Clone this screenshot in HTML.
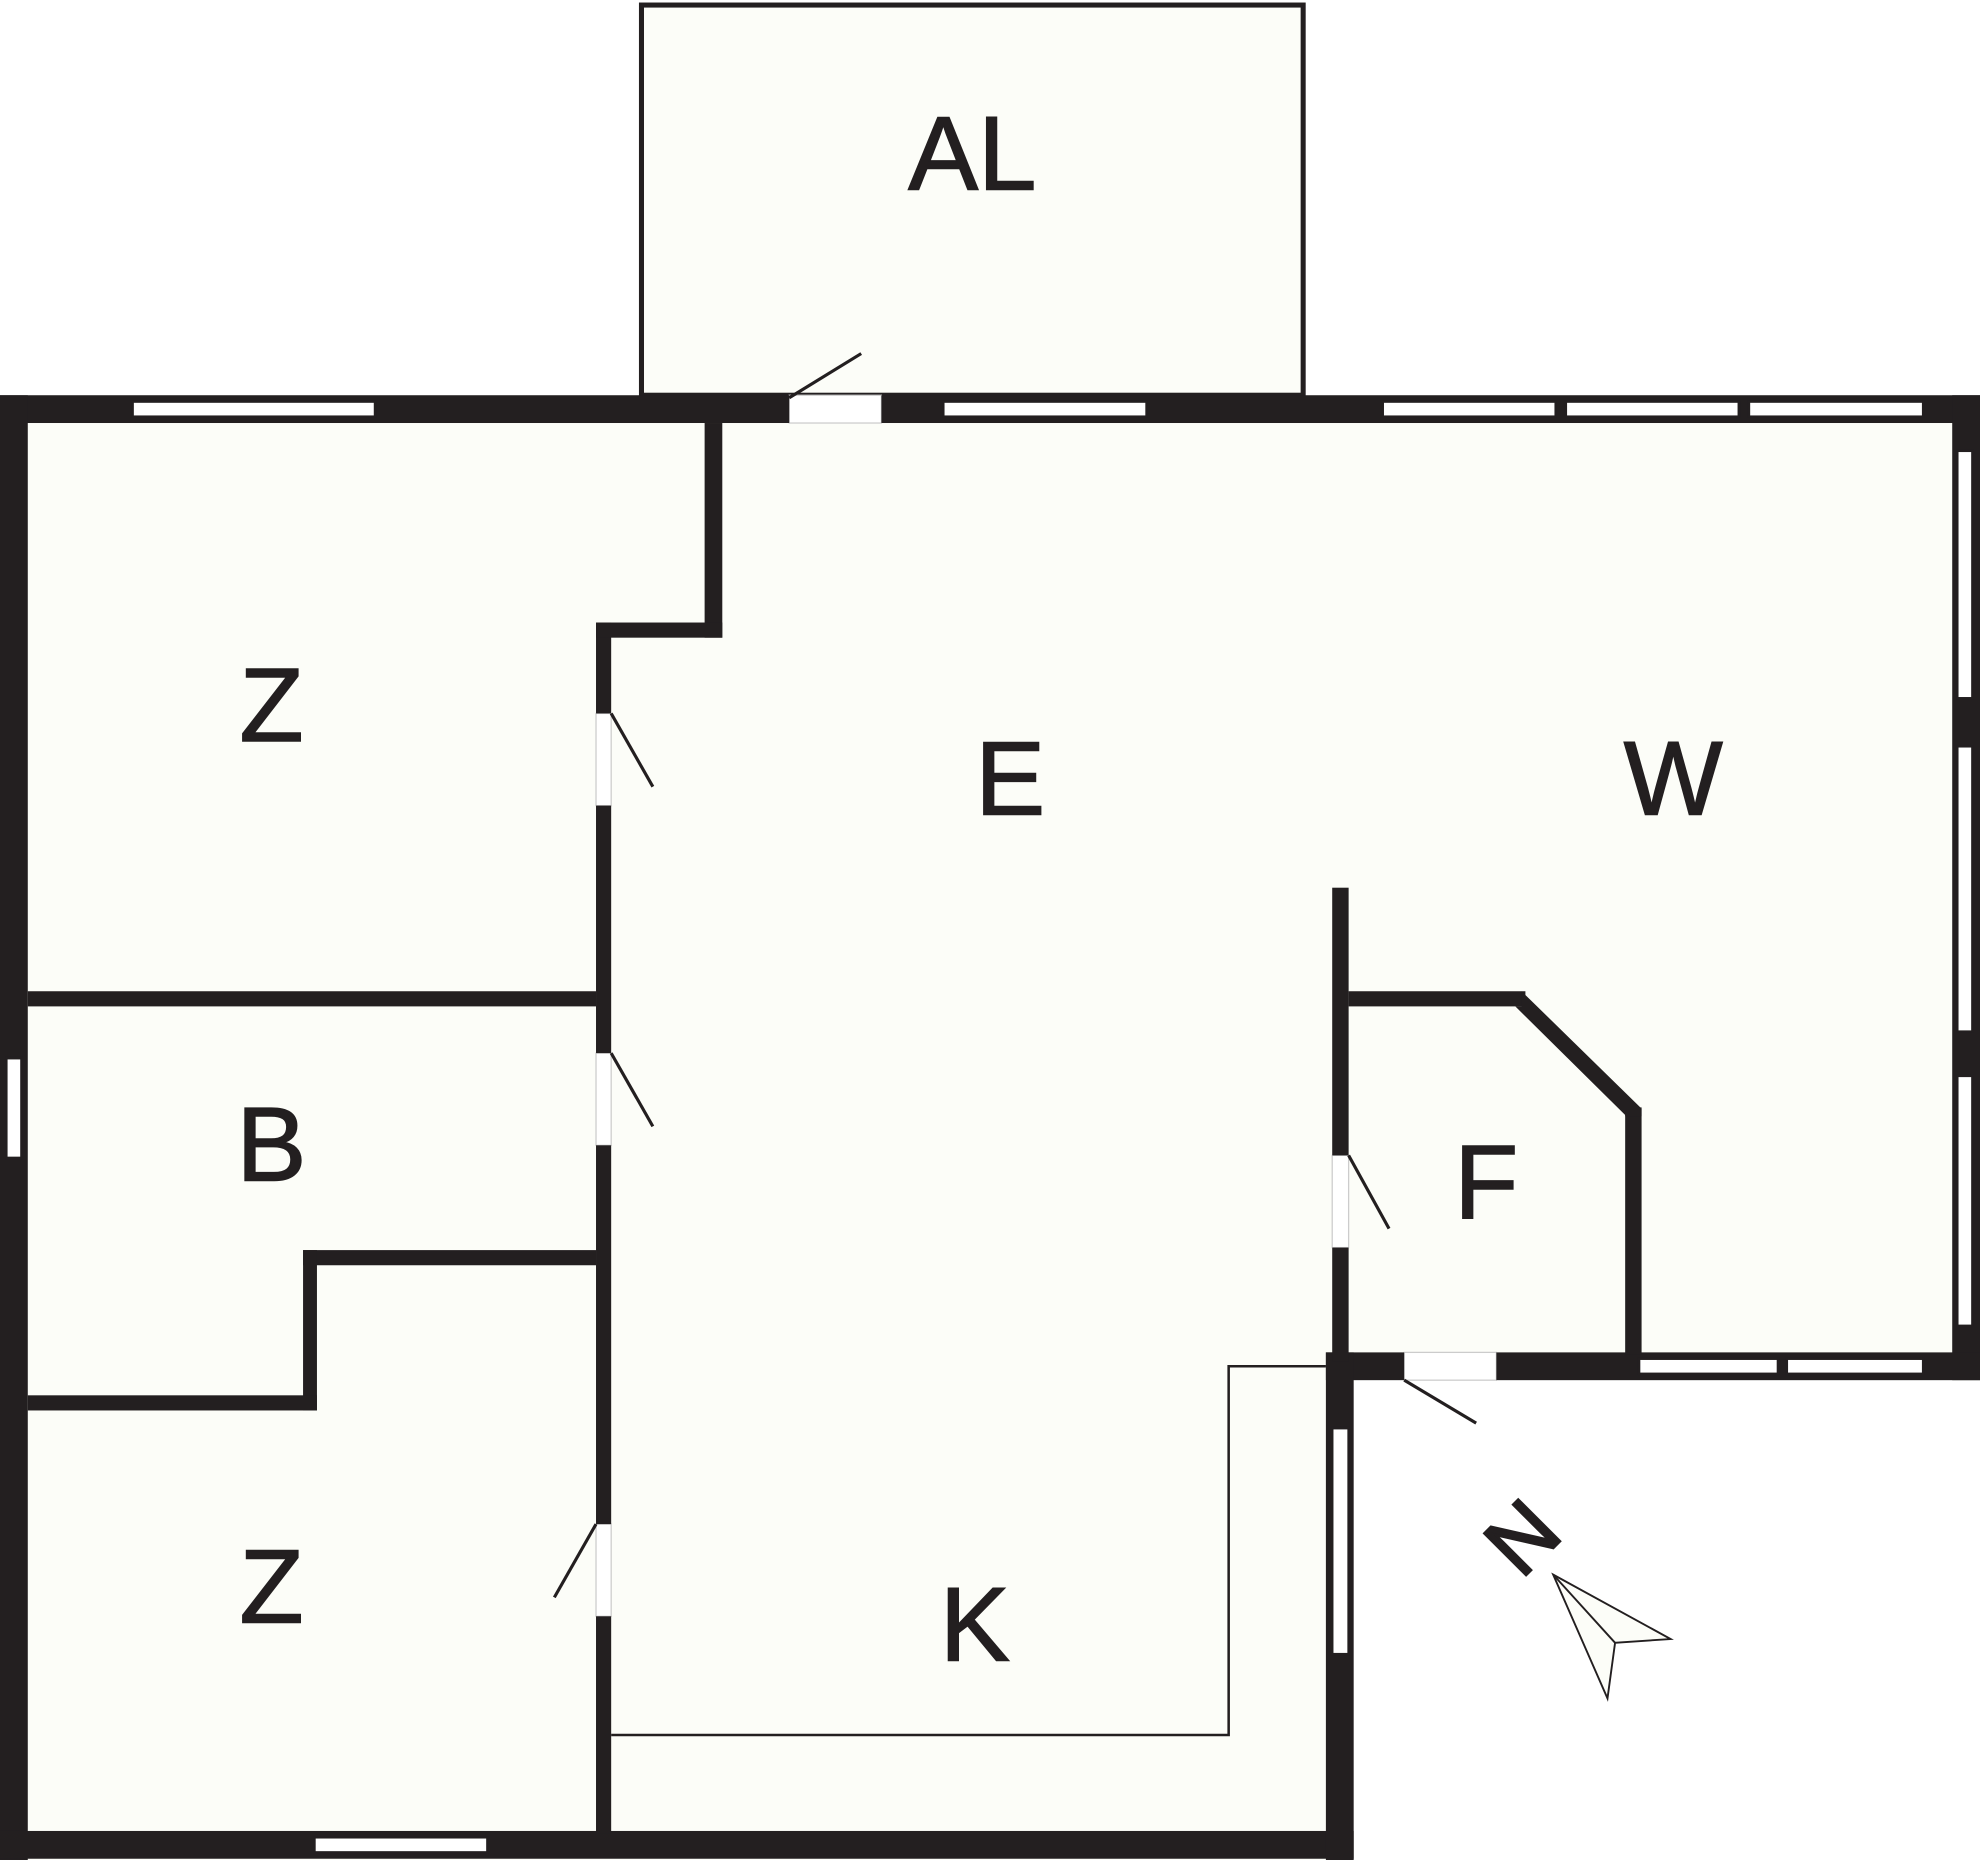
<!DOCTYPE html>
<html><head><meta charset="utf-8"><style>
html,body{margin:0;padding:0;background:#fff;}
svg{display:block;}
text{font-family:"Liberation Sans",sans-serif;font-size:83px;fill:#231f20;stroke:#231f20;stroke-width:1.2;text-anchor:middle;}
</style></head><body>
<svg width="1980" height="1860" viewBox="0 0 1568 1473" preserveAspectRatio="none" xmlns="http://www.w3.org/2000/svg">
<g fill="#fcfdf8" stroke="none">
<rect x="0" y="313" width="1568" height="780"/>
<rect x="0" y="1093" width="1072" height="380"/>
</g>
<rect x="508" y="4" width="524" height="309" fill="#fcfdf8" stroke="#231f20" stroke-width="4"/>
<!-- door gaps -->
<g fill="#fff" stroke="#cccccc" stroke-width="1">
<rect x="625" y="313" width="73" height="22"/>
<rect x="472" y="565" width="12" height="73"/>
<rect x="472" y="834" width="12" height="73"/>
<rect x="472" y="1207" width="12" height="73"/>
<rect x="1055" y="915" width="13" height="73"/>
<rect x="1112" y="1071" width="73" height="22"/>
</g>
<g fill="#231f20">
<rect x="0" y="313" width="625" height="22"/>
<rect x="698" y="313" width="870" height="22"/>
<rect x="1546" y="313" width="22" height="780"/>
<rect x="1050" y="1071" width="62" height="22"/>
<rect x="1185" y="1071" width="383" height="22"/>
<rect x="0" y="313" width="22" height="1160"/>
<rect x="0" y="1450" width="1072" height="22"/>
<rect x="1050" y="1071" width="22" height="402"/>
<rect x="1055" y="703" width="13" height="212"/>
<rect x="1055" y="988" width="13" height="90"/>
<rect x="1068" y="785" width="140" height="12"/>
<rect x="1287" y="877" width="13" height="196"/>
<rect x="472" y="493" width="12" height="72"/>
<rect x="472" y="638" width="12" height="196"/>
<rect x="472" y="907" width="12" height="300"/>
<rect x="472" y="1280" width="12" height="172"/>
<rect x="558" y="335" width="14" height="170"/>
<rect x="472" y="493" width="100" height="12"/>
<rect x="22" y="785" width="450" height="12"/>
<rect x="240" y="990" width="232" height="12"/>
<rect x="240" y="990" width="11" height="127"/>
<rect x="22" y="1105" width="229" height="12"/>
</g>
<polygon points="1205,785 1300,878 1300,884 1287,884 1287,883 1200,797 1205,797" fill="#231f20"/>
<g fill="#fff" stroke="#231f20" stroke-width="2">
<rect x="105" y="318" width="192" height="12"/>
<rect x="747" y="318" width="161" height="12"/>
<rect x="1095" y="318" width="137" height="12"/>
<rect x="1240" y="318" width="137" height="12"/>
<rect x="1385" y="318" width="138" height="12"/>
<rect x="1550" y="357" width="12" height="196"/>
<rect x="1550" y="591" width="12" height="226"/>
<rect x="1550" y="852" width="12" height="198"/>
<rect x="1298" y="1076" width="110" height="12"/>
<rect x="1415" y="1076" width="108" height="12"/>
<rect x="1055" y="1131" width="13" height="179"/>
<rect x="249" y="1455" width="137" height="12"/>
<rect x="5" y="838" width="12" height="79"/>
</g>
<polyline points="484,1374 973,1374 973,1082 1050,1082" fill="none" stroke="#231f20" stroke-width="2"/>
<g stroke="#231f20" stroke-width="2.5">
<line x1="625" y1="315" x2="682" y2="280"/>
<line x1="484" y1="565" x2="517" y2="623"/>
<line x1="484" y1="834" x2="517" y2="892"/>
<line x1="472" y1="1207" x2="439" y2="1265"/>
<line x1="1068" y1="915" x2="1100" y2="973"/>
<line x1="1112" y1="1093" x2="1169" y2="1127"/>
</g>
<text x="770" y="150">AL</text>
<text x="215" y="587">Z</text>
<text x="800" y="645">E</text>
<text x="1325" y="645">W</text>
<text x="215" y="935">B</text>
<text x="1177" y="965">F</text>
<text x="215" y="1285">Z</text>
<text x="772" y="1315">K</text>
<text x="0" y="0" transform="translate(1222,1234) rotate(-45)" style="font-size:68px;stroke-width:2">N</text>
<polygon points="1230,1247 1323,1298 1279,1301 1273,1345" fill="#fcfdf8" stroke="#231f20" stroke-width="1.5"/>
<line x1="1230" y1="1247" x2="1279" y2="1301" stroke="#231f20" stroke-width="1.5"/>
</svg>
</body></html>
